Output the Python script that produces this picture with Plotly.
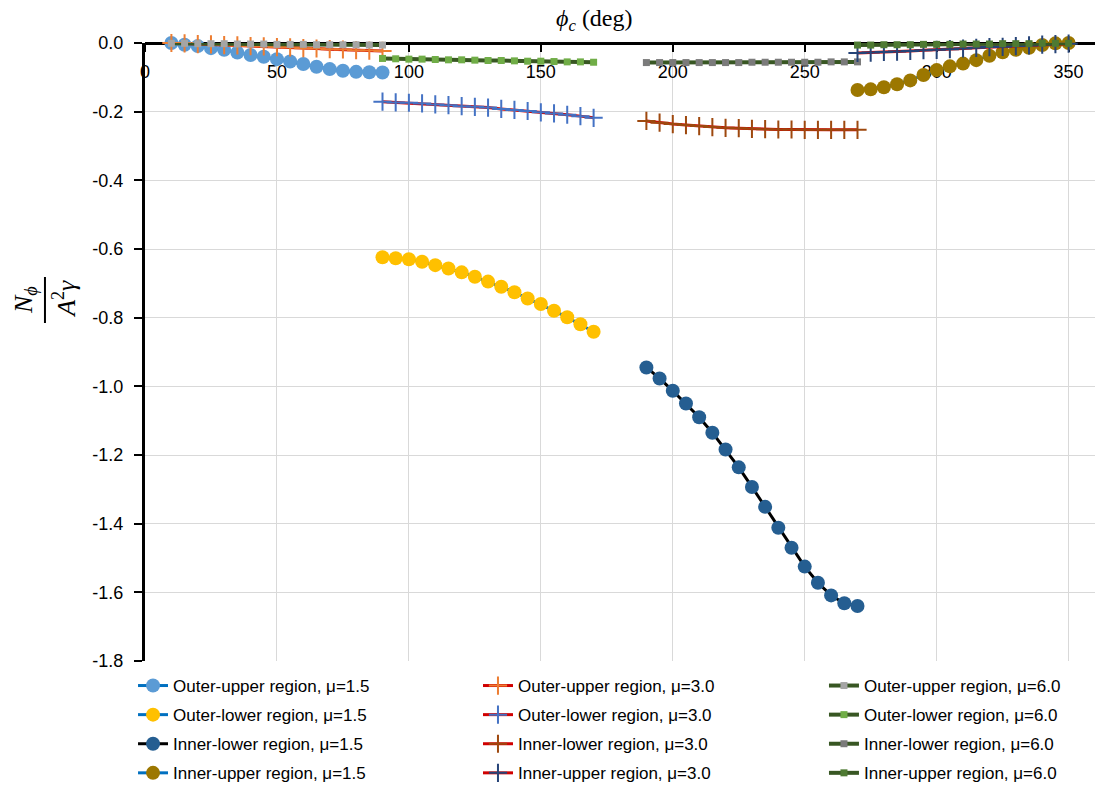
import plotly.graph_objects as go

# ---------------- data ----------------
phi_outer = [10, 15, 20, 25, 30, 35, 40, 45, 50, 55, 60, 65, 70, 75, 80, 85, 90]
phi_outer_low = [90, 95, 100, 105, 110, 115, 120, 125, 130, 135, 140, 145, 150, 155, 160, 165, 170]
phi_inner_low = [190, 195, 200, 205, 210, 215, 220, 225, 230, 235, 240, 245, 250, 255, 260, 265, 270]
phi_inner_up = [270, 275, 280, 285, 290, 295, 300, 305, 310, 315, 320, 325, 330, 335, 340, 345, 350]

# mu = 1.5
ou_15 = [0.000, -0.005, -0.009, -0.015, -0.020, -0.028, -0.035, -0.040, -0.047, -0.054,
         -0.061, -0.069, -0.076, -0.081, -0.084, -0.085, -0.086]
ol_15 = [-0.624, -0.627, -0.630, -0.637, -0.647, -0.657, -0.668, -0.681, -0.695, -0.710,
         -0.726, -0.744, -0.760, -0.780, -0.799, -0.819, -0.841]
il_15 = [-0.945, -0.977, -1.013, -1.050, -1.090, -1.135, -1.184, -1.236, -1.293, -1.351,
         -1.412, -1.470, -1.525, -1.572, -1.609, -1.632, -1.640]
iu_15 = [-0.137, -0.135, -0.129, -0.120, -0.109, -0.093, -0.079, -0.068, -0.060, -0.050,
         -0.037, -0.027, -0.020, -0.014, -0.006, -0.001, 0.000]

# mu = 3.0
ou_30 = [0.000, -0.001, -0.003, -0.004, -0.006, -0.007, -0.009, -0.010, -0.012, -0.013,
         -0.015, -0.016, -0.018, -0.019, -0.021, -0.022, -0.023]
ol_30 = [-0.171, -0.173, -0.174, -0.176, -0.179, -0.181, -0.184, -0.186, -0.188, -0.192,
         -0.195, -0.198, -0.202, -0.205, -0.209, -0.213, -0.218]
il_30 = [-0.227, -0.232, -0.236, -0.239, -0.242, -0.245, -0.247, -0.248, -0.250, -0.251,
         -0.252, -0.252, -0.253, -0.253, -0.253, -0.253, -0.253]
iu_30 = [-0.029, -0.028, -0.026, -0.025, -0.023, -0.021, -0.020, -0.018, -0.016, -0.014,
         -0.012, -0.011, -0.009, -0.007, -0.005, -0.003, -0.002]

# mu = 6.0
ou_60 = [-0.001, -0.001, -0.002, -0.002, -0.002, -0.003, -0.003, -0.003, -0.004, -0.004,
         -0.004, -0.005, -0.005, -0.005, -0.005, -0.006, -0.006]
ol_60 = [-0.045, -0.046, -0.047, -0.047, -0.048, -0.049, -0.049, -0.050, -0.051, -0.051,
         -0.052, -0.053, -0.053, -0.054, -0.055, -0.055, -0.056]
il_60 = [-0.057, -0.057, -0.057, -0.057, -0.057, -0.057, -0.057, -0.057, -0.056, -0.056,
         -0.056, -0.056, -0.056, -0.056, -0.055, -0.055, -0.055]
iu_60 = [-0.006, -0.006, -0.005, -0.005, -0.005, -0.004, -0.004, -0.004, -0.003, -0.003,
         -0.003, -0.002, -0.002, -0.002, -0.001, -0.001, -0.001]

x_ticks = [0, 50, 100, 150, 200, 250, 300, 350]
x_ticklabels = ["0", "50", "100", "150", "200", "250", "300", "350"]
y_ticks = [0.0, -0.2, -0.4, -0.6, -0.8, -1.0, -1.2, -1.4, -1.6, -1.8]
y_ticklabels = ["0.0", "-0.2", "-0.4", "-0.6", "-0.8", "-1.0", "-1.2", "-1.4", "-1.6", "-1.8"]

# ---------------- styling ----------------
BLUE_LINE = "#0070C0"
RED_LINE = "#D00000"
GREEN_LINE = "#385723"
FONT = "Liberation Sans, Arial, sans-serif"
SERIF = "Liberation Serif, Times New Roman, serif"

fig = go.Figure()


def circle_trace(name, x, y, line_color, marker_color, grp):
    return go.Scatter(
        x=x, y=y, name=name, mode="lines+markers", cliponaxis=False,
        legend="legend", legendgroup=grp,
        line=dict(color=line_color, width=3),
        marker=dict(symbol="circle", size=14, color=marker_color, line=dict(width=0)),
    )


def cross_trace(name, x, y, marker_color, grp):
    return go.Scatter(
        x=x, y=y, name=name, mode="lines+markers", cliponaxis=False,
        legend="legend2", legendgroup=grp,
        line=dict(color=RED_LINE, width=3),
        marker=dict(symbol="cross-thin", size=13, color=marker_color,
                    line=dict(width=2, color=marker_color)),
    )


def square_trace(name, x, y, marker_color, grp):
    return go.Scatter(
        x=x, y=y, name=name, mode="lines+markers", cliponaxis=False,
        legend="legend3", legendgroup=grp,
        line=dict(color=GREEN_LINE, width=4),
        marker=dict(symbol="square", size=7, color=marker_color, line=dict(width=0)),
    )


fig.add_trace(circle_trace("Outer-upper region, μ=1.5", phi_outer, ou_15, BLUE_LINE, "#5B9BD5", "a1"))
fig.add_trace(cross_trace("Outer-upper region, μ=3.0", phi_outer, ou_30, "#ED7D31", "b1"))
fig.add_trace(square_trace("Outer-upper region, μ=6.0", phi_outer, ou_60, "#A5A5A5", "c1"))

fig.add_trace(circle_trace("Outer-lower region, μ=1.5", phi_outer_low, ol_15, BLUE_LINE, "#FFC000", "a2"))
fig.add_trace(cross_trace("Outer-lower region, μ=3.0", phi_outer_low, ol_30, "#4472C4", "b2"))
fig.add_trace(square_trace("Outer-lower region, μ=6.0", phi_outer_low, ol_60, "#70AD47", "c2"))

fig.add_trace(circle_trace("Inner-lower region, μ=1.5", phi_inner_low, il_15, "#000000", "#255E91", "a3"))
fig.add_trace(cross_trace("Inner-lower region, μ=3.0", phi_inner_low, il_30, "#9E480E", "b3"))
fig.add_trace(square_trace("Inner-lower region, μ=6.0", phi_inner_low, il_60, "#7B7B7B", "c3"))

fig.add_trace(circle_trace("Inner-upper region, μ=1.5", phi_inner_up, iu_15, BLUE_LINE, "#9C7700", "a4"))
fig.add_trace(cross_trace("Inner-upper region, μ=3.0", phi_inner_up, iu_30, "#264478", "b4"))
fig.add_trace(square_trace("Inner-upper region, μ=6.0", phi_inner_up, iu_60, "#4E7A32", "c4"))

legend_common = dict(
    orientation="v", xanchor="left", xref="paper",
    yref="paper", y=-0.0113, yanchor="top",
    font=dict(family=FONT, size=17, color="black"),
    bgcolor="rgba(0,0,0,0)", traceorder="grouped", tracegroupgap=4,
)

fig.update_layout(
    width=1101, height=800,
    margin=dict(l=137, r=14, t=35, b=147, pad=0),
    paper_bgcolor="white", plot_bgcolor="white",
    font=dict(family=FONT, size=17, color="black"),
    showlegend=True,
    legend=dict(x=-0.0126, **legend_common),
    legend2=dict(x=0.3505, **legend_common),
    legend3=dict(x=0.7147, **legend_common),
    xaxis=dict(
        range=[0, 360], side="bottom", anchor="free", position=1,
        tickmode="array", tickvals=x_ticks, ticktext=x_ticklabels,
        ticks="outside", ticklen=7, tickwidth=2, tickcolor="black",
        ticklabelstandoff=4,
        tickfont=dict(family=FONT, size=18, color="black"),
        showline=True, linecolor="black", linewidth=3,
        showgrid=True, gridcolor="#D9D9D9", gridwidth=1,
        zeroline=False, layer="below traces",
    ),
    yaxis=dict(
        range=[-1.8, 0],
        tickmode="array", tickvals=y_ticks, ticktext=y_ticklabels,
        ticks="outside", ticklen=8, tickwidth=2, tickcolor="black",
        ticklabelstandoff=7,
        tickfont=dict(family=FONT, size=18, color="black"),
        showline=True, linecolor="black", linewidth=3,
        showgrid=True, gridcolor="#D9D9D9", gridwidth=1,
        zeroline=False, layer="below traces",
    ),
)

# x-axis title (above the top axis)
fig.add_annotation(
    xref="paper", yref="paper", x=0.473, y=1.037, showarrow=False,
    text="<i>ϕ</i><sub><i>c</i></sub> (deg)",
    font=dict(family=SERIF, size=24, color="black"),
    xanchor="center", yanchor="middle",
)

# y-axis title as a rotated fraction N_phi / (A^2 gamma)
fig.add_annotation(
    xref="paper", yref="paper", x=-0.1263, y=0.584, showarrow=False,
    text="<i>N</i><sub><i>ϕ</i></sub>", textangle=-90,
    font=dict(family=SERIF, size=26, color="black"),
    xanchor="center", yanchor="middle",
)
fig.add_annotation(
    xref="paper", yref="paper", x=-0.0842, y=0.586, showarrow=False,
    text="<i>A</i><sup>2</sup><i>γ</i>", textangle=-90,
    font=dict(family=SERIF, size=26, color="black"),
    xanchor="center", yanchor="middle",
)
fig.add_shape(
    type="line", xref="paper", yref="paper",
    x0=-0.1053, x1=-0.1053, y0=0.5469, y1=0.6214,
    line=dict(color="black", width=2),
)

fig.write_html("out.html")
